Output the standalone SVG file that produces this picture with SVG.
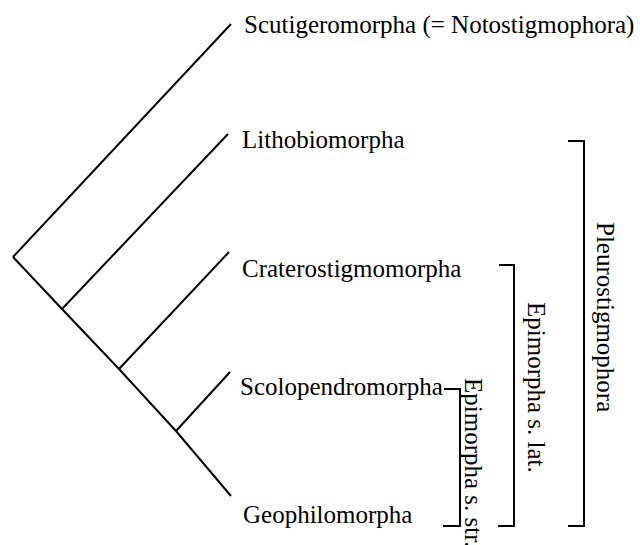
<svg xmlns="http://www.w3.org/2000/svg" width="640" height="545" viewBox="0 0 640 545">
<style>
.t{font-family:"Liberation Serif","Times New Roman",serif;font-size:25px;fill:#000}
.ln{stroke:#000;stroke-width:2;fill:none;stroke-linecap:butt;stroke-linejoin:miter}
</style>
<rect width="640" height="545" fill="#fff"/>
<g id="connectors" class="ln">
<polyline points="13,257 62,309 119,369 176,431 231,496"/>
<line x1="13" y1="257" x2="231" y2="24"/>
<line x1="62" y1="309" x2="228" y2="134"/>
<line x1="119" y1="369" x2="229" y2="252"/>
<line x1="176" y1="431" x2="230" y2="372"/>
</g>
<g id="scutigeromorpha"><text class="t" x="244" y="33">Scutigeromorpha (= Notostigmophora)</text></g>
<g id="lithobiomorpha"><text class="t" x="242" y="148">Lithobiomorpha</text></g>
<g id="craterostigmomorpha"><text class="t" x="242" y="277">Craterostigmomorpha</text></g>
<g id="scolopendromorpha"><text class="t" x="240" y="395">Scolopendromorpha</text></g>
<g id="geophilomorpha"><text class="t" x="243" y="523">Geophilomorpha</text></g>
<g id="epimorpha-s-str">
<polyline class="ln" points="444,389 460,389 460,526 443,526"/>
<text class="t" transform="translate(465,378) rotate(90)">Epimorpha s. str.</text>
</g>
<g id="epimorpha-s-lat">
<polyline class="ln" points="499,265 514,265 514,526 498,526"/>
<text class="t" transform="translate(528,302) rotate(90)">Epimorpha s. lat.</text>
</g>
<g id="pleurostigmophora">
<polyline class="ln" points="568,141 584,141 584,526 568,526"/>
<text class="t" transform="translate(597,222) rotate(90)">Pleurostigmophora</text>
</g>
</svg>
